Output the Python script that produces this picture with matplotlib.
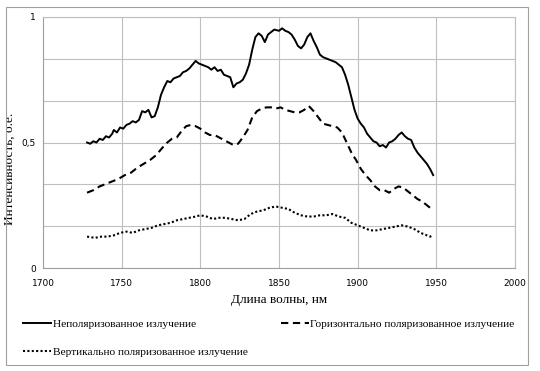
import matplotlib
matplotlib.use("Agg")
import matplotlib.pyplot as plt
from matplotlib.patches import Rectangle

# -----------------------------
# Данные
# -----------------------------
wl_unpol = [1728, 1730, 1732, 1734, 1736, 1738, 1740, 1742, 1744, 1745, 1747, 1749,
            1751, 1753, 1755, 1757, 1759, 1761, 1763, 1765, 1767, 1769, 1771, 1773,
            1775, 1777, 1779, 1781, 1783, 1785, 1787, 1789, 1791, 1793, 1795, 1797,
            1799, 1801, 1803, 1805, 1807, 1809, 1811, 1813, 1815, 1817, 1819, 1821,
            1823, 1825, 1827, 1829, 1831, 1833, 1835, 1837, 1839, 1841, 1843, 1845,
            1847, 1850, 1852, 1854, 1856, 1858, 1860, 1862, 1864, 1866, 1868, 1870,
            1872, 1874, 1876, 1878, 1880, 1882, 1884, 1886, 1888, 1890, 1892, 1894,
            1896, 1898, 1900, 1902, 1904, 1906, 1908, 1910, 1912, 1914, 1916, 1918,
            1920, 1922, 1924, 1926, 1928, 1930, 1932, 1934, 1936, 1938, 1940, 1942,
            1944, 1946, 1948]
i_unpol = [0.50, 0.495, 0.505, 0.50, 0.515, 0.51, 0.525, 0.52, 0.535, 0.55, 0.54, 0.56,
           0.555, 0.57, 0.575, 0.585, 0.58, 0.59, 0.625, 0.62, 0.63, 0.60, 0.605, 0.64,
           0.69, 0.72, 0.745, 0.74, 0.755, 0.76, 0.765, 0.78, 0.785, 0.795, 0.81, 0.825,
           0.815, 0.81, 0.805, 0.80, 0.79, 0.80, 0.785, 0.79, 0.77, 0.765, 0.76, 0.72,
           0.735, 0.74, 0.75, 0.775, 0.81, 0.87, 0.92, 0.935, 0.925, 0.90, 0.93, 0.94,
           0.95, 0.945, 0.955, 0.945, 0.94, 0.93, 0.91, 0.885, 0.875, 0.89, 0.92, 0.935,
           0.905, 0.88, 0.85, 0.84, 0.835, 0.83, 0.825, 0.82, 0.81, 0.80, 0.77, 0.73,
           0.68, 0.63, 0.595, 0.575, 0.56, 0.535, 0.52, 0.505, 0.50, 0.485, 0.49, 0.48,
           0.50, 0.505, 0.515, 0.53, 0.54, 0.525, 0.515, 0.51, 0.48, 0.46, 0.445, 0.43,
           0.415, 0.395, 0.37]

wl_hor = [1728, 1732, 1736, 1740, 1744, 1748, 1752, 1756, 1760, 1764, 1768, 1772,
          1776, 1779, 1782, 1785, 1788, 1791, 1794, 1797, 1800, 1803, 1806, 1809,
          1812, 1815, 1818, 1821, 1824, 1827, 1830, 1833, 1836, 1839, 1842, 1845,
          1848, 1851, 1854, 1857, 1860, 1863, 1866, 1869, 1872, 1875, 1878, 1881,
          1884, 1887, 1890, 1893, 1896, 1899, 1902, 1905, 1908, 1911, 1914, 1917,
          1920, 1923, 1926, 1929, 1932, 1935, 1938, 1941, 1944, 1948]
i_hor = [0.30, 0.31, 0.325, 0.335, 0.345, 0.355, 0.37, 0.38, 0.40, 0.415, 0.43, 0.45,
         0.48, 0.50, 0.515, 0.52, 0.545, 0.565, 0.57, 0.565, 0.555, 0.54, 0.53, 0.53,
         0.52, 0.51, 0.50, 0.49, 0.495, 0.52, 0.55, 0.60, 0.625, 0.635, 0.64, 0.64,
         0.635, 0.64, 0.63, 0.625, 0.62, 0.62, 0.63, 0.645, 0.625, 0.60, 0.575, 0.57,
         0.565, 0.56, 0.54, 0.50, 0.46, 0.43, 0.395, 0.37, 0.35, 0.325, 0.31, 0.31,
         0.30, 0.315, 0.325, 0.32, 0.305, 0.29, 0.275, 0.265, 0.25, 0.23]

wl_vert = [1728, 1733, 1737, 1741, 1745, 1749, 1753, 1757, 1761, 1765, 1769, 1773,
           1777, 1781, 1785, 1789, 1793, 1797, 1800, 1804, 1808, 1812, 1816, 1820,
           1824, 1828, 1832, 1836, 1840, 1844, 1848, 1852, 1856, 1860, 1864, 1868,
           1872, 1876, 1880, 1884, 1888, 1892, 1896, 1900, 1904, 1908, 1912, 1916,
           1920, 1924, 1928, 1932, 1936, 1940, 1944, 1946, 1948]
i_vert = [0.125, 0.12, 0.125, 0.125, 0.13, 0.14, 0.145, 0.14, 0.15, 0.155, 0.16, 0.17,
          0.175, 0.18, 0.19, 0.195, 0.20, 0.205, 0.21, 0.205, 0.195, 0.20, 0.20, 0.195,
          0.19, 0.195, 0.215, 0.225, 0.23, 0.24, 0.245, 0.24, 0.235, 0.22, 0.21, 0.205,
          0.205, 0.21, 0.21, 0.215, 0.205, 0.20, 0.18, 0.17, 0.16, 0.15, 0.15, 0.155,
          0.16, 0.165, 0.17, 0.165, 0.155, 0.14, 0.13, 0.125, 0.13]

x_ticks = [1700, 1750, 1800, 1850, 1900, 1950, 2000]
y_ticks = [0, 1 / 6, 2 / 6, 0.5, 4 / 6, 5 / 6, 1]
y_tick_labels = ["0", "", "", "0,5", "", "", "1"]

GRID = "#bfbfbf"
SERIF = "Liberation Serif"

fig = plt.figure(figsize=(5.4, 3.71), dpi=100)
ax = fig.add_axes([43 / 540, 1 - 268 / 371, 472 / 540, 251 / 371])

l1, = ax.plot(wl_unpol, i_unpol, color="black", lw=1.4, label="Неполяризованное излучение")
l2, = ax.plot(wl_hor, i_hor, color="black", lw=1.5, dashes=(3.5, 2.2),
              label="Горизонтально поляризованное излучение")
l3, = ax.plot(wl_vert, i_vert, color="black", lw=1.5, dashes=(1, 1.1),
              label="Вертикально поляризованное излучение")

ax.set_xlim(1700, 2000)
ax.set_ylim(0, 1)
ax.set_xticks(x_ticks)
ax.set_yticks(y_ticks)
ax.set_yticklabels(y_tick_labels)
ax.grid(True, color=GRID, lw=0.8)
ax.set_axisbelow(True)
ax.tick_params(length=0, labelsize=6.5, pad=5)
ax.tick_params(axis="x", pad=8)
for sp in ax.spines.values():
    sp.set_color(GRID)
    sp.set_linewidth(0.8)
ax.spines["left"].set_color("#a0a0a0")
ax.spines["bottom"].set_color("#a0a0a0")

ax.set_xlabel("Длина волны, нм", family=SERIF, fontsize=9.5, labelpad=4)
ax.set_ylabel("Интенсивность, о.е.", family=SERIF, fontsize=9.5)
ax.yaxis.set_label_coords((16 - 43) / 472, (268 - 169) / 251)

leg = fig.legend([l1, l3, l2], [l1.get_label(), l3.get_label(), l2.get_label()],
                 ncol=2, loc="upper left", bbox_to_anchor=(23 / 540, 1 - 319 / 371),
                 frameon=False, prop={"family": SERIF, "size": 8.2},
                 handlelength=2.5, handletextpad=0.1, columnspacing=2.9,
                 labelspacing=1.55, borderaxespad=0, borderpad=0)

fig.patches.append(Rectangle((6 / 540, 6 / 371), 522 / 540, 358 / 371,
                             transform=fig.transFigure, fill=False,
                             edgecolor="#a0a0a0", lw=0.8))

fig.savefig("out.png", dpi=100)
